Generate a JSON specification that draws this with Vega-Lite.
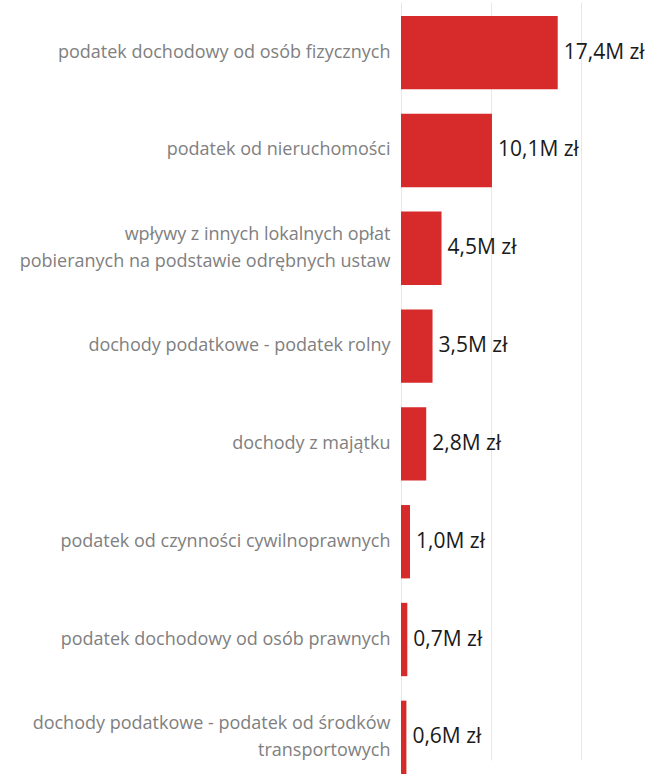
{
  "$schema": "https://vega.github.io/schema/vega-lite/v6.json",
  "width": 263,
  "height": 776,
  "autosize": {"type": "none"},
  "padding": {"left": 401, "top": 0, "right": 0, "bottom": 0},
  "background": "white",
  "data": {
    "values": [
      {"name": "podatek dochodowy od osób fizycznych", "value": 17.4},
      {"name": "podatek od nieruchomości", "value": 10.1},
      {"name": "wpływy z innych lokalnych opłat|pobieranych na podstawie odrębnych ustaw", "value": 4.5},
      {"name": "dochody podatkowe - podatek rolny", "value": 3.5},
      {"name": "dochody z majątku", "value": 2.8},
      {"name": "podatek od czynności cywilnoprawnych", "value": 1.0},
      {"name": "podatek dochodowy od osób prawnych", "value": 0.7},
      {"name": "dochody podatkowe - podatek od środków|transportowych", "value": 0.6}
    ]
  },
  "transform": [
    {"calculate": "replace(format(datum.value, '.1f'), '.', ',') + 'M zł'", "as": "label"}
  ],
  "encoding": {
    "y": {
      "field": "name",
      "type": "nominal",
      "sort": null,
      "scale": {"range": [16, 774], "paddingInner": 0.25, "paddingOuter": 0},
      "axis": {
        "title": null,
        "ticks": false,
        "domain": false,
        "labelPadding": 11,
        "labelLimit": 500,
        "labelFont": "Open Sans",
        "labelFontSize": 18,
        "labelColor": "#808080",
        "labelLineHeight": 27,
        "labelOffset": {"condition": {"test": "indexof(datum.value, '|') >= 0", "value": -13}, "value": 0},
        "labelExpr": "split(datum.label, '|')"
      }
    },
    "x": {
      "field": "value",
      "type": "quantitative",
      "scale": {"domain": [0, 29.2], "nice": false, "zero": true},
      "axis": {
        "title": null,
        "labels": false,
        "ticks": false,
        "domain": false,
        "grid": true,
        "values": [0, 10, 20],
        "gridColor": "#e8e8e8",
        "gridWidth": 1
      }
    }
  },
  "layer": [
    {"mark": {"type": "bar", "color": "#d62a2b"}},
    {
      "mark": {"type": "text", "align": "left", "baseline": "middle", "dx": 6, "font": "Open Sans", "fontSize": 21, "color": "#1a1a1a"},
      "encoding": {"text": {"field": "label"}}
    }
  ],
  "config": {"view": {"stroke": null}}
}
